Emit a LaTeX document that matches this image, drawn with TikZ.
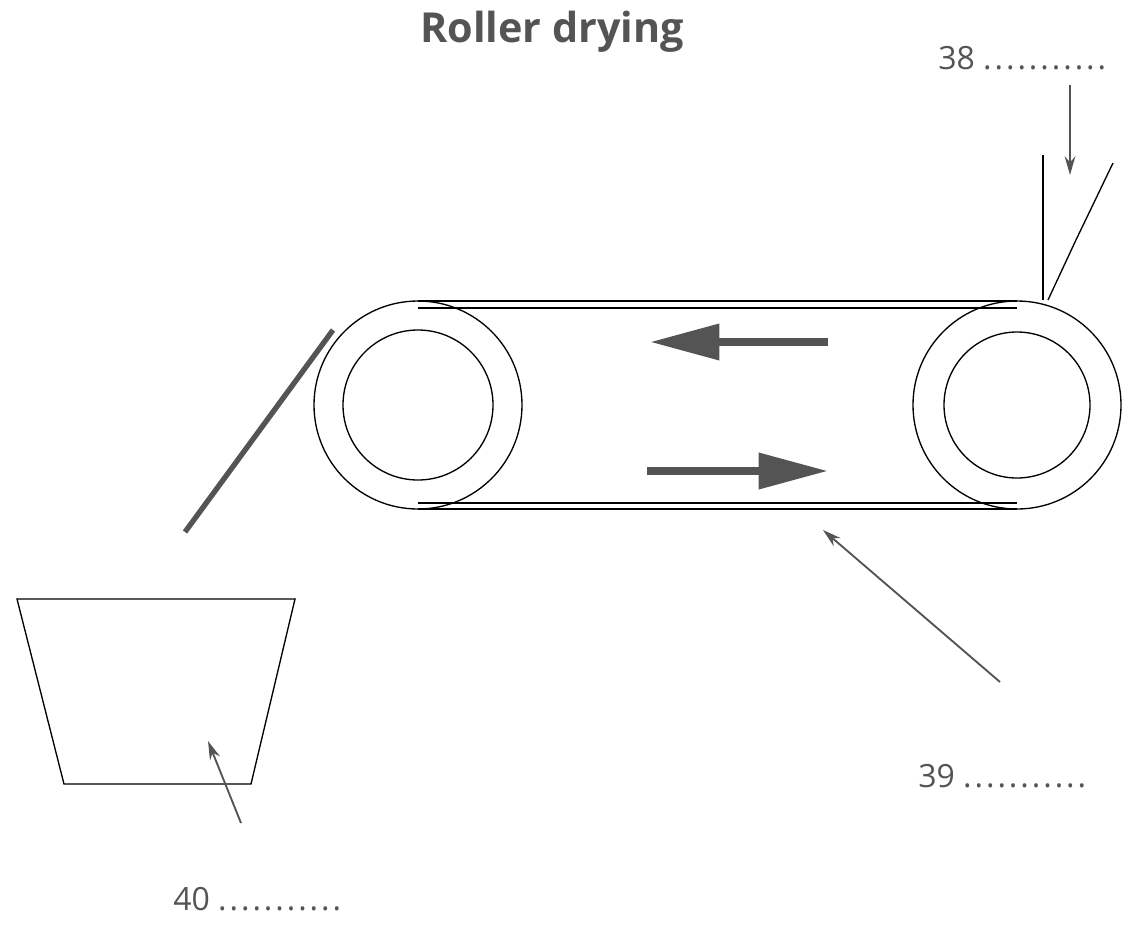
\documentclass[tikz,border=0pt]{standalone}
\usepackage{fontspec}
\setmainfont{Open Sans}
\usetikzlibrary{arrows.meta}
\definecolor{kGrey}{rgb}{0.33,0.33,0.33}
\newcommand{\answerdots}{\foreach \k in {1,...,11}{.\kern2.2pt}}
\tikzset{
  label text/.style={text=kGrey,font=\fontsize{24}{28}\selectfont,anchor=west,inner sep=0pt},
  pointer/.style={draw=kGrey,line width=1.4pt,-{Stealth[length=14pt,width=8pt]}},
  move arrow/.style={draw=kGrey,line width=6pt,-{Triangle[length=52pt,width=26pt]}},
  roller/.style={draw=black,line width=1pt}
}
\begin{document}
\begin{tikzpicture}[x=0.75pt,y=-0.75pt]
  \useasboundingbox (0,0) rectangle (1139,925);

  % title
  \node[text=kGrey,font=\fontsize{31}{36}\selectfont\bfseries] (title) at (552,32) {Roller drying};

  % rollers
  \foreach \n/\cx/\ri in {left/418/75,right/1017/73}
  {
    \draw[roller] (\cx,405) circle (104);
    \draw[roller] (\cx,405) circle (\ri);
    \coordinate (\n-top) at (\cx,301);
    \coordinate (\n-bot) at (\cx,509);
  }

  % belt
  \draw[roller] (left-top) -- (right-top);
  \draw[roller] (418,308) -- (1017,308);
  \draw[roller] (418,503) -- (1017,503);
  \draw[roller] (left-bot) -- (right-bot);

  % direction arrows
  \coordinate (a1) at (828,342);
  \coordinate (b1) at (650,342);
  \coordinate (a2) at (647,471);
  \coordinate (b2) at (828,471);
  \draw[move arrow] (a1) -- (b1);
  \draw[move arrow] (a2) -- (b2);

  % scraper
  \draw[kGrey,line width=4pt] (185,532) -- (333,330);

  % feed
  \draw[roller] (1043,155) -- (1043,300);
  \draw[roller] (1113,163) -- (1075,242) -- (1048,300);

  % container
  \draw[roller] (17,599) -- (295,599) -- (251,784) -- (64,784) -- cycle;

  % labels
  \node[label text] (l38) at (938,58) {38 \answerdots};
  \node[label text] (l39) at (918,776) {39 \answerdots};
  \node[label text] (l40) at (173,899) {40 \answerdots};
  \coordinate (p38) at (1070,85);
  \coordinate (q38) at (1070,175);
  \coordinate (p39) at (1000,682);
  \coordinate (q39) at (823,530);
  \coordinate (p40) at (241,823);
  \coordinate (q40) at (208,741);
  \draw[pointer] (p38) -- (q38);
  \draw[pointer] (p39) -- (q39);
  \draw[pointer] (p40) -- (q40);
\end{tikzpicture}
\end{document}
